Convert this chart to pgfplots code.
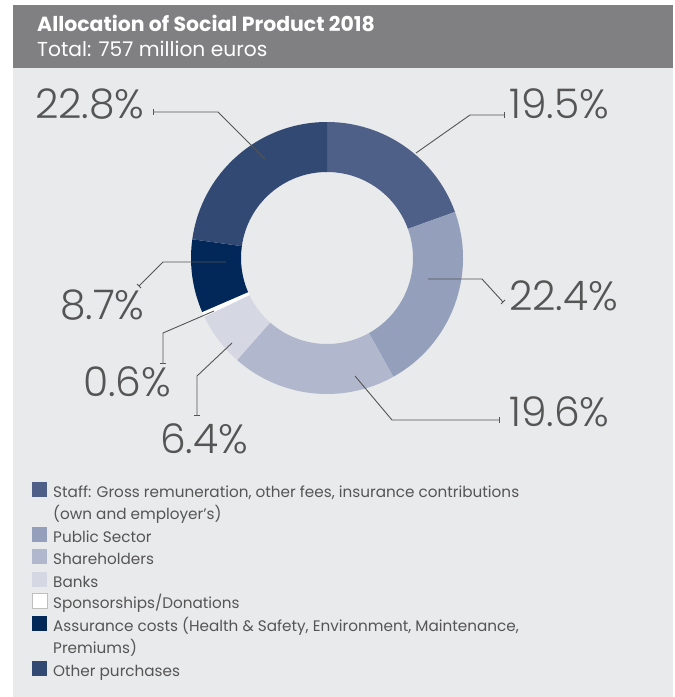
\documentclass[border=0pt]{standalone}
\usepackage{fontspec}
\setmainfont{Poppins}
\newfontfamily\numfont{Poppins Light}
\usepackage{pgfplots}
\usepackage{pgfplotstable}
\pgfplotsset{compat=1.18}

\definecolor{cStaff}{RGB}{79,96,136}
\definecolor{cPublic}{RGB}{147,159,187}
\definecolor{cShare}{RGB}{177,183,205}
\definecolor{cBanks}{RGB}{213,216,227}
\definecolor{cSpons}{RGB}{255,255,255}
\definecolor{cAssur}{RGB}{1,40,88}
\definecolor{cOther}{RGB}{50,74,115}
\definecolor{cBg}{RGB}{233,234,236}
\definecolor{cBar}{RGB}{128,128,131}
\definecolor{cText}{RGB}{85,85,85}

% share of the social product, percent (clockwise from 12 o'clock)
\pgfplotstableread{
share color
19.5 cStaff
22.4 cPublic
19.6 cShare
6.4 cBanks
0.6 cSpons
8.7 cAssur
22.8 cOther
}\alloc

\begin{document}
\begin{tikzpicture}
% cumulative angles of the slices
\gdef\cum{90}
\foreach \i in {0,...,6}{
  \pgfplotstablegetelem{\i}{share}\of\alloc \let\v\pgfplotsretval
  \pgfplotstablegetelem{\i}{color}\of\alloc \let\c\pgfplotsretval
  \pgfmathsetmacro\endang{\cum-3.6*\v}
  \expandafter\xdef\csname sA\i\endcsname{\cum}
  \expandafter\xdef\csname sB\i\endcsname{\endang}
  \expandafter\xdef\csname sC\i\endcsname{\c}
  \xdef\cum{\endang}
}
\begin{axis}[
  x=1bp, y=1bp, y dir=reverse,
  xmin=0, xmax=675, ymin=0, ymax=697,
  scale only axis, hide axis, clip=false,
]
\fill[cBg] (axis cs:13,68) rectangle (axis cs:673,697);
\fill[cBar] (axis cs:13,5) rectangle (axis cs:673,68);
\path (axis cs:0,0) (axis cs:675,697);
\node[anchor=base west, inner sep=0, text=white, font=\fontsize{20.5}{24}\selectfont\bfseries]
  at (axis cs:37,32) {Allocation of Social Product 2018};
\node[anchor=base west, inner sep=0, text=white, font=\fontsize{20.3}{24}\selectfont]
  at (axis cs:37,57) {Total: 757 million euros};

% donut
\coordinate (c) at (axis cs:327,258);
\pgfplotsinvokeforeach{0,...,6}{
  \fill[\csname sC#1\endcsname]
    ([shift={(\csname sA#1\endcsname:136bp)}]c)
    arc[start angle=\csname sA#1\endcsname, end angle=\csname sB#1\endcsname, radius=136bp]
    -- ([shift={(\csname sB#1\endcsname:86bp)}]c)
    arc[start angle=\csname sB#1\endcsname, end angle=\csname sA#1\endcsname, radius=86bp]
    -- cycle;
}

% leader lines
\begin{scope}[cText, line width=0.9bp]
\draw (axis cs:265,159) -- (axis cs:218,112) -- (axis cs:153,112);
\draw (axis cs:153,109) -- (axis cs:153,115);
\draw (axis cs:416,153) -- (axis cs:470,115) -- (axis cs:504,115);
\draw (axis cs:504,112) -- (axis cs:504,118);
\draw (axis cs:428,279) -- (axis cs:482,279) -- (axis cs:503,302);
\draw (axis cs:501,304) -- (axis cs:505,300);
\draw (axis cs:355,376) -- (axis cs:392,420) -- (axis cs:499,420);
\draw (axis cs:499,417) -- (axis cs:499,423);
\draw (axis cs:232,343) -- (axis cs:197,376) -- (axis cs:197,415);
\draw (axis cs:194,415) -- (axis cs:200,415);
\draw (axis cs:214,311) -- (axis cs:163,333) -- (axis cs:163,363);
\draw (axis cs:160,363) -- (axis cs:166,363);
\draw (axis cs:226,262) -- (axis cs:163,262) -- (axis cs:139,286);
\draw (axis cs:137,284) -- (axis cs:141,288);
\end{scope}

% value labels
\begin{scope}[every node/.style={anchor=base west, inner sep=0, text=cText,
    font=\numfont\fontsize{41}{46}\selectfont}]
\node at (axis cs:35,119) {22.8\%};
\node at (axis cs:509,119) {19.5\%};
\node at (axis cs:509,310) {22.4\%};
\node at (axis cs:509,426) {19.6\%};
\node at (axis cs:160,453) {6.4\%};
\node at (axis cs:83,396) {0.6\%};
\node at (axis cs:60,319) {8.7\%};
\end{scope}

% legend
\begin{scope}[every node/.style={anchor=base west, inner sep=0, text=cText,
    font=\fontsize{15.3}{18}\selectfont}]
\fill[cStaff] (axis cs:32,482) rectangle (axis cs:47,497);
\node at (axis cs:53,497) {Staff: Gross remuneration, other fees, insurance contributions};
\node at (axis cs:53,519) {(own and employer’s)};
\fill[cPublic] (axis cs:32,527) rectangle (axis cs:47,542);
\node at (axis cs:53,542) {Public Sector};
\fill[cShare] (axis cs:32,549) rectangle (axis cs:47,564);
\node at (axis cs:53,564) {Shareholders};
\fill[cBanks] (axis cs:32,572) rectangle (axis cs:47,587);
\node at (axis cs:53,587) {Banks};
\filldraw[fill=white, draw=black!25, line width=0.4bp] (axis cs:32.3,593.3) rectangle (axis cs:46.7,607.7);
\node at (axis cs:53,608) {Sponsorships/Donations};
\fill[cAssur] (axis cs:32,616) rectangle (axis cs:47,631);
\node at (axis cs:53,631) {Assurance costs (Health \& Safety, Environment, Maintenance,};
\node at (axis cs:53,653) {Premiums)};
\fill[cOther] (axis cs:32,661) rectangle (axis cs:47,676);
\node at (axis cs:53,676) {Other purchases};
\end{scope}
\end{axis}
\end{tikzpicture}
\end{document}
